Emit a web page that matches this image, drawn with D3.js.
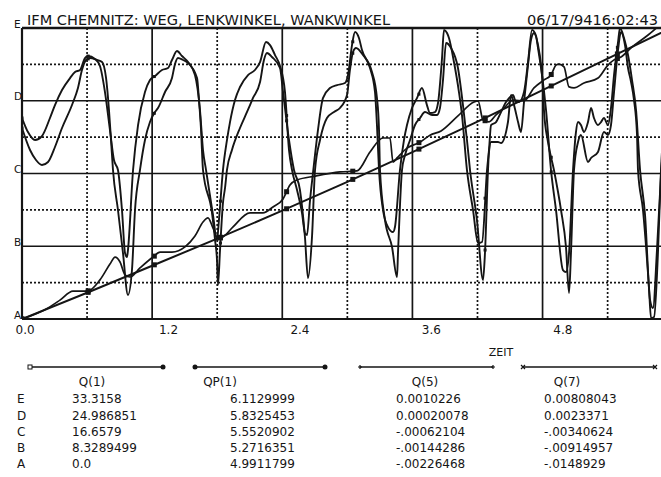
<!DOCTYPE html>
<html>
<head>
<meta charset="utf-8">
<script src="https://cdn.jsdelivr.net/npm/d3@7"></script>
<style>
body { margin: 0; background: #fff; }
svg { display: block; }
</style>
</head>
<body>
<svg id="chart"></svg>
<script>
// --- data ---
var levelNames = ["A", "B", "C", "D", "E"];
var seriesNames = ["Q(1)", "QP(1)", "Q(5)", "Q(7)"];
var q1Levels = [0.0, 8.3289499, 16.6579, 24.986851, 33.3158];
var qp1Levels = [4.9911799, 5.2716351, 5.5520902, 5.8325453, 6.1129999];
var q5Levels = [-0.00226468, -0.00144286, -0.00062104, 0.00020078, 0.0010226];
var q7Levels = [-0.0148929, -0.00914957, -0.00340624, 0.0023371, 0.00808043];
// table text exactly as printed (E first)
var tableQ1 = ["33.3158", "24.986851", "16.6579", "8.3289499", "0.0"];
var tableQP1 = ["6.1129999", "5.8325453", "5.5520902", "5.2716351", "4.9911799"];
var tableQ5 = ["0.0010226", "0.00020078", "-.00062104", "-.00144286", "-.00226468"];
var tableQ7 = ["0.00808043", "0.0023371", "-.00340624", "-.00914957", "-.0148929"];
var xTicks = [0.0, 1.2, 2.4, 3.6, 4.8];

// Q(1) Weg
var q1Time = [0, 0.6, 1.2, 1.8, 2.4, 3.0, 3.6, 4.2, 4.8, 5.4, 6.0];
var q1Value = [0, 3.0, 6.1, 9.2, 12.4, 15.7, 19.1, 22.6, 26.2, 29.8, 33.4];

// QP(1)
var qp1Time = [0, 0.240, 0.350, 0.470, 0.608, 0.719, 0.811, 0.858, 0.904, 0.950, 0.996, 1.088, 1.208, 1.273,
  1.383, 1.503, 1.595, 1.669, 1.715, 1.761, 1.807, 1.853, 1.946, 2.102, 2.222, 2.314, 2.407, 2.471, 2.536,
  2.702, 2.932, 3.089, 3.209, 3.329, 3.393, 3.421, 3.458, 3.550, 3.670, 3.762, 3.864, 4.020, 4.168, 4.205,
  4.251, 4.306, 4.371, 4.445, 4.528, 4.629, 4.721, 4.814, 4.878, 4.924, 4.952, 4.998, 5.044, 5.090, 5.182,
  5.312, 5.403, 5.459, 5.523, 5.616, 5.773, 5.892, 6.0];
var qp1Value = [4.9912, 5.034, 5.064, 5.099, 5.099, 5.142, 5.203, 5.230, 5.211, 5.161, 5.153, 5.188, 5.230, 5.249,
  5.249, 5.269, 5.311, 5.365, 5.381, 5.342, 5.300, 5.307, 5.346, 5.400, 5.400, 5.423, 5.454, 5.508, 5.527,
  5.542, 5.558, 5.562, 5.635, 5.689, 5.689, 5.596, 5.612, 5.650, 5.673, 5.700, 5.716, 5.774, 5.828, 5.832,
  5.758, 5.751, 5.778, 5.805, 5.835, 5.832, 5.882, 5.913, 5.932, 5.970, 5.974, 5.963, 5.886, 5.882, 5.901,
  5.920, 5.970, 5.990, 6.001, 6.036, 6.086, 6.128, 6.163];

// Q(5) Lenkwinkel
var q5Time = [0, 0.055, 0.120, 0.184, 0.258, 0.304, 0.369, 0.443, 0.489, 0.535, 0.581, 0.609, 0.673, 0.719,
  0.765, 0.811, 0.848, 0.885, 0.922, 0.950, 0.968, 0.977, 1.024, 1.070, 1.134, 1.180, 1.226, 1.291, 1.346,
  1.383, 1.429, 1.475, 1.531, 1.595, 1.641, 1.669, 1.697, 1.761, 1.798, 1.816, 1.853, 1.890, 1.918, 1.964,
  2.010, 2.084, 2.148, 2.195, 2.250, 2.287, 2.333, 2.379, 2.425, 2.462, 2.490, 2.536, 2.582, 2.609, 2.628,
  2.656, 2.683, 2.729, 2.775, 2.840, 2.905, 2.978, 3.006, 3.043, 3.071, 3.107, 3.135, 3.209, 3.255, 3.273,
  3.292, 3.329, 3.375, 3.421, 3.439, 3.485, 3.522, 3.550, 3.596, 3.642, 3.688, 3.734, 3.762, 3.808, 3.836,
  3.873, 3.891, 3.919, 3.937, 3.983, 4.029, 4.057, 4.103, 4.159, 4.205, 4.242, 4.288, 4.306, 4.325, 4.371,
  4.417, 4.463, 4.491, 4.527, 4.555, 4.583, 4.629, 4.666, 4.703, 4.740, 4.758, 4.795, 4.832, 4.878, 4.924,
  4.988, 5.016, 5.044, 5.081, 5.108, 5.127, 5.154, 5.182, 5.219, 5.247, 5.274, 5.311, 5.339, 5.366, 5.403,
  5.431, 5.459, 5.496, 5.514, 5.551, 5.588, 5.625, 5.662, 5.699, 5.745, 5.791, 5.818, 5.855, 5.892, 5.947, 6.0];
var q5Value = [0.000006, -0.000153, -0.000243, -0.000198, 0.000006, 0.000152, 0.000322, 0.000457, 0.000525,
  0.000548, 0.000683, 0.000706, 0.000672, 0.000593, 0.000299, -0.000130, -0.000469, -0.000582, -0.001034,
  -0.001519, -0.001565, -0.001486, -0.000582, -0.000074, 0.000299, 0.000435, 0.000480, 0.000548, 0.000570,
  0.000661, 0.000762, 0.000706, 0.000638, 0.000491, 0.000096, -0.000356, -0.000582, -0.001090, -0.001373,
  -0.001147, -0.000582, -0.000243, -0.000040, 0.000209, 0.000356, 0.000491, 0.000548, 0.000638, 0.000864,
  0.000830, 0.000717, 0.000593, 0.000299, -0.000356, -0.000582, -0.000808, -0.001068, -0.001294, -0.001316,
  -0.000921, -0.000616, -0.000130, 0.000231, 0.000344, 0.000378, 0.000401, 0.000491, 0.000830, 0.000977,
  0.000909, 0.000774, 0.000570, 0.000299, -0.000074, -0.000582, -0.001034, -0.001226, -0.001282, -0.001226,
  -0.000582, -0.000243, -0.000074, 0.000119, 0.000231, 0.000344, 0.000152, 0.000062, 0.000073, 0.000175,
  0.000683, 0.001000, 0.000966, 0.000909, 0.000638, 0.000299, 0.000039, -0.000582, -0.001034, -0.001407,
  -0.001395, -0.000582, -0.000356, -0.000074, -0.000040, 0.000073, 0.000186, 0.000231, 0.000265, 0.000186,
  0.000186, 0.000299, 0.000638, 0.001000, 0.000932, 0.000796, 0.000491, 0.000096, -0.000582, -0.001034,
  -0.001712, -0.001734, -0.001519, -0.000582, -0.000153, -0.000040, -0.000074, -0.000153, -0.000040, 0.000119,
  0.000006, -0.000074, -0.000040, 0.000006, -0.000074, 0.000119, 0.000491, 0.000864, 0.001022, 0.000909,
  0.000717, 0.000435, 0.000096, -0.000582, -0.001090, -0.002050, -0.002141, -0.001486, -0.000638, 0.000096,
  0.000491];

// Q(7) Wankwinkel
var q7Time = [0, 0.074, 0.129, 0.184, 0.240, 0.304, 0.369, 0.461, 0.516, 0.553, 0.590, 0.627, 0.692, 0.738,
  0.775, 0.802, 0.821, 0.839, 0.885, 0.931, 0.977, 1.014, 1.042, 1.088, 1.134, 1.180, 1.226, 1.254, 1.319,
  1.383, 1.411, 1.438, 1.485, 1.531, 1.614, 1.632, 1.651, 1.669, 1.752, 1.780, 1.798, 1.807, 1.826, 1.853,
  1.872, 1.890, 1.936, 2.010, 2.075, 2.130, 2.195, 2.231, 2.259, 2.305, 2.379, 2.407, 2.462, 2.508, 2.563,
  2.609, 2.637, 2.674, 2.702, 2.748, 2.812, 2.877, 2.932, 2.997, 3.024, 3.052, 3.080, 3.144, 3.227, 3.273,
  3.292, 3.301, 3.347, 3.412, 3.458, 3.467, 3.504, 3.532, 3.578, 3.624, 3.670, 3.716, 3.781, 3.827, 3.854,
  3.882, 3.910, 3.956, 4.020, 4.066, 4.103, 4.131, 4.195, 4.251, 4.269, 4.297, 4.306, 4.325, 4.389, 4.417,
  4.481, 4.509, 4.537, 4.574, 4.601, 4.629, 4.666, 4.693, 4.721, 4.758, 4.786, 4.804, 4.814, 4.850, 4.905,
  4.970, 5.016, 5.044, 5.062, 5.090, 5.127, 5.154, 5.219, 5.247, 5.311, 5.366, 5.403, 5.431, 5.459, 5.496,
  5.523, 5.560, 5.588, 5.616, 5.643, 5.671, 5.680, 5.726, 5.781, 5.800, 5.828, 5.864, 5.892, 5.947, 6.0];
var q7Value = [0.000186, -0.001550, -0.002340, -0.002735, -0.002498, -0.001314, 0.000186, 0.002002, 0.003344,
  0.004766, 0.005555, 0.005713, 0.005555, 0.005397, 0.004134, 0.001608, -0.000761, -0.003129, -0.006287,
  -0.009682, -0.012998, -0.011024, -0.006287, -0.003129, -0.000761, 0.000660, 0.001450, 0.001765, 0.003029,
  0.004134, 0.005239, 0.005713, 0.005555, 0.005318, 0.004134, 0.002397, 0.000029, -0.003129, -0.006524,
  -0.008656, -0.010235, -0.012209, -0.009445, -0.005735, -0.004551, -0.003129, -0.001550, 0.000186, 0.001450,
  0.002555, 0.003818, 0.005555, 0.006108, 0.005792, 0.004923, 0.003029, -0.000761, -0.003129, -0.004708,
  -0.008419, -0.011656, -0.008419, -0.003129, -0.000761, 0.000976, 0.001450, 0.001765, 0.002792, 0.004766,
  0.006187, 0.006502, 0.005950, 0.004608, 0.002555, 0.000029, -0.003129, -0.007077, -0.009209, -0.011577,
  -0.009682, -0.003129, -0.001945, -0.000761, 0.000423, 0.000976, 0.001450, 0.001213, 0.001213, 0.001765,
  0.003976, 0.006897, 0.006502, 0.004923, 0.002002, -0.000761, -0.003129, -0.007077, -0.011814, -0.009682,
  -0.003129, -0.001708, -0.000919, -0.000919, -0.000998, 0.000660, 0.002792, 0.002002, 0.000660, -0.000129,
  0.002239, 0.005160, 0.007134, 0.007687, 0.006739, 0.005160, 0.003344, 0.001450, -0.000919, -0.003129,
  -0.006287, -0.009209, -0.012840, -0.009682, -0.003129, -0.000919, -0.000366, -0.002498, -0.002182, -0.001708,
  -0.000129, -0.000366, 0.000423, 0.003029, 0.006345, 0.007766, 0.006739, 0.004923, 0.003818, 0.002397,
  -0.000366, -0.003129, -0.006287, -0.012367, -0.014814, -0.014735, -0.009682, -0.003129, 0.002397, 0.004766];

// plot marker instants
var markerTimes = [0, 0.61, 1.22, 1.83, 2.44, 3.05, 3.66, 4.27, 4.88, 5.49];

// --- layout ---
var width = 661, height = 477;
var ink = "#151515";
var plot = { left: 22, right: 672.7, top: 28, bottom: 319 };

var svg = d3.select("#chart").attr("width", width).attr("height", height)
  .style("font-family", "'DejaVu Sans', sans-serif").style("fill", ink);

var x = d3.scaleLinear().domain([0, 6]).range([plot.left, plot.right]);
function yScale(lv) { return d3.scaleLinear().domain([lv[0], lv[4]]).range([plot.bottom, plot.top]); }
var yQ1 = yScale(q1Levels), yQP1 = yScale(qp1Levels), yQ5 = yScale(q5Levels), yQ7 = yScale(q7Levels);
var yGrid = d3.scaleLinear().domain([0, 4]).range([plot.bottom, plot.top]);

// grid
var grid = svg.append("g").attr("stroke", ink).attr("fill", "none");
d3.range(0, 8.5, 1).forEach(function(i) {
  var solid = i % 2 == 0;
  grid.append("line")
    .attr("x1", plot.left).attr("x2", width)
    .attr("y1", yGrid(i / 2)).attr("y2", yGrid(i / 2))
    .attr("stroke-width", i == 8 ? 2.4 : (i == 0 ? 2.2 : 1.7))
    .attr("stroke-dasharray", solid ? null : "2,2");
});
d3.range(0, 11, 1).forEach(function(i) {
  var t = i * 0.6;
  grid.append("line")
    .attr("x1", x(t)).attr("x2", x(t))
    .attr("y1", plot.top).attr("y2", plot.bottom)
    .attr("stroke-width", i == 0 ? 2.2 : 1.7)
    .attr("stroke-dasharray", i % 2 == 0 ? null : "2,2");
});

// level letters on the left
svg.append("g").selectAll("text").data(levelNames).enter().append("text")
  .attr("x", 14).attr("y", function(d, i) { return yGrid(i) - 0.5; })
  .style("font-size", "10.5px")
  .text(function(d) { return d; });

// x tick labels
var xAxis = d3.axisBottom(x).tickValues(xTicks).tickFormat(d3.format(".1f")).tickSize(0);
var xg = svg.append("g").attr("transform", "translate(0," + plot.bottom + ")").call(xAxis);
xg.select(".domain").remove();
xg.selectAll("text")
  .attr("y", 6).attr("dy", "0.71em")
  .attr("text-anchor", "start")
  .attr("dx", function(d) { return d == 0 ? -7 : 5 + d * 1.1; })
  .style("font-family", "'DejaVu Sans', sans-serif").style("font-size", "12px").attr("fill", ink);

svg.append("text").attr("x", 501).attr("y", 356).attr("text-anchor", "middle")
  .style("font-size", "11px").text("ZEIT");

// title
svg.append("text").attr("x", 27).attr("y", 25)
  .attr("textLength", 363).attr("lengthAdjust", "spacingAndGlyphs")
  .style("font-size", "13.5px").text("IFM CHEMNITZ: WEG, LENKWINKEL, WANKWINKEL");
svg.append("text").attr("x", 527).attr("y", 25)
  .attr("textLength", 131).attr("lengthAdjust", "spacingAndGlyphs")
  .style("font-size", "13.5px").text("06/17/9416:02:43");

// curves
svg.append("defs").append("clipPath").attr("id", "clip")
  .append("rect").attr("x", plot.left).attr("y", plot.top - 1)
  .attr("width", plot.right - plot.left).attr("height", plot.bottom - plot.top + 2);

var layer = svg.append("g").attr("clip-path", "url(#clip)");
var series = [
  { t: q1Time, v: q1Value, y: yQ1, w: 2, m: 5, curve: d3.curveLinear },
  { t: qp1Time, v: qp1Value, y: yQP1, w: 1.7, m: 5, curve: d3.curveMonotoneX },
  { t: q5Time, v: q5Value, y: yQ5, w: 1.9, m: 3, curve: d3.curveMonotoneX },
  { t: q7Time, v: q7Value, y: yQ7, w: 1.9, m: 3, curve: d3.curveMonotoneX }
];
series.forEach(function(s) {
  var pts = d3.zip(s.t, s.v);
  var line = d3.line().x(function(d) { return x(d[0]); }).y(function(d) { return s.y(d[1]); }).curve(s.curve);
  layer.append("path").datum(pts)
    .attr("fill", "none").attr("stroke", ink)
    .attr("stroke-width", s.w).attr("stroke-linejoin", "round")
    .attr("d", line);
  var interp = d3.scaleLinear().domain(s.t).range(s.v);
  layer.selectAll(null).data(markerTimes).enter().append("rect")
    .attr("x", function(d) { return x(d) - s.m / 2; })
    .attr("y", function(d) { return s.y(interp(d)) - s.m / 2; })
    .attr("width", s.m).attr("height", s.m).attr("fill", ink);
});

// legend / value table
var cols = [
  { name: seriesNames[0], x1: 30, x2: 163, head: 92, vx: 72, vals: tableQ1 },
  { name: seriesNames[1], x1: 195, x2: 325, head: 220, vx: 230, vals: tableQP1 },
  { name: seriesNames[2], x1: 360, x2: 493, head: 425, vx: 396, vals: tableQ5 },
  { name: seriesNames[3], x1: 523, x2: 655, head: 567, vx: 544, vals: tableQ7 }
];
var rowY = [403, 420, 436, 452, 468];
var leg = svg.append("g");
cols.forEach(function(c, ci) {
  leg.append("line").attr("x1", c.x1).attr("x2", c.x2).attr("y1", 367).attr("y2", 367)
    .attr("stroke", ink).attr("stroke-width", 1.5);
  [c.x1, c.x2].forEach(function(px, k) {
    if (ci == 0 && k == 0) {
      leg.append("rect").attr("x", px - 2).attr("y", 365).attr("width", 4).attr("height", 4)
        .attr("fill", "#fff").attr("stroke", ink).attr("stroke-width", 1);
    } else if (ci < 2) {
      leg.append("circle").attr("cx", px).attr("cy", 367).attr("r", 2.5).attr("fill", ink);
    } else if (ci == 2) {
      leg.append("path").attr("d", "M" + (px - 2) + ",367h4M" + px + ",365v4")
        .attr("stroke", ink).attr("stroke-width", 1.2);
    } else {
      leg.append("path").attr("d", "M" + (px - 2) + ",365l4,4M" + (px - 2) + ",369l4,-4")
        .attr("stroke", ink).attr("stroke-width", 1.2);
    }
  });
  leg.append("text").attr("x", c.head).attr("y", 386).attr("text-anchor", "middle")
    .style("font-size", "12px").text(c.name);
  leg.selectAll(null).data(c.vals).enter().append("text")
    .attr("x", c.vx).attr("y", function(d, i) { return rowY[i]; })
    .style("font-size", "12px").text(function(d) { return d; });
});
leg.selectAll(null).data(levelNames.slice().reverse()).enter().append("text")
  .attr("x", 17).attr("y", function(d, i) { return rowY[i]; })
  .style("font-size", "12px").text(function(d) { return d; });
</script>
</body>
</html>
